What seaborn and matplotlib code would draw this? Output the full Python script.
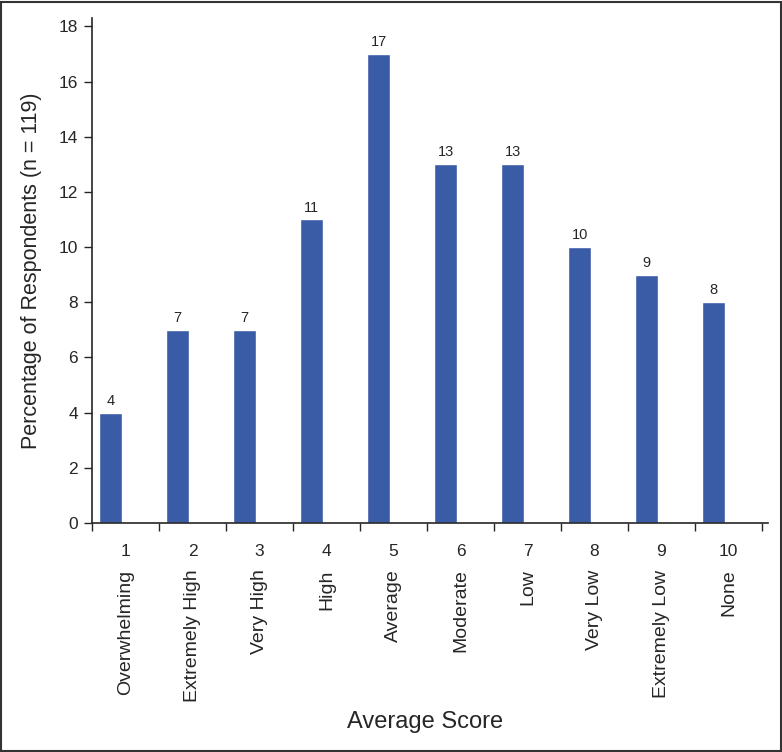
import matplotlib
matplotlib.use("Agg")
import matplotlib.pyplot as plt
import matplotlib.transforms as mtransforms
import seaborn as sns
import pandas as pd
import numpy as np

# Dados
scores = ["1", "2", "3", "4", "5", "6", "7", "8", "9", "10"]
descriptions = ["Overwhelming", "Extremely High", "Very High", "High", "Average",
                "Moderate", "Low", "Very Low", "Extremely Low", "None"]
percentages = [4, 7, 7, 11, 17, 13, 13, 10, 9, 8]

df = pd.DataFrame({"score": scores, "pct": percentages})

sns.set_style("ticks")
plt.rcParams["font.family"] = ["Liberation Sans", "DejaVu Sans"]

fig = plt.figure(figsize=(7.82, 7.52), dpi=100)
ax = fig.add_axes([0.1176, 0.3045, 0.8645, 0.6715])

sns.barplot(data=df, x="score", y="pct", color="#3A5CA6", saturation=1,
            width=0.345, ax=ax)

# Valores acima das barras
for i, v in enumerate(percentages):
    ax.annotate(str(v), (i, v), xytext=(0, 3.5), textcoords="offset points",
                ha="center", va="bottom", fontsize=10.5)

ax.set_xlim(-0.28, 9.81)
ax.set_ylim(0, 18.3)
ax.set_yticks(range(0, 19, 2))
ax.tick_params(axis="y", labelsize=12.5, length=6, width=1, direction="out", pad=4)

# Marcas nos limites das categorias, rótulos deslocados
pos = np.arange(len(scores))
ax.set_xticks(pos + 0.22)
ax.set_xticklabels(scores, fontsize=12.5)
ax.tick_params(axis="x", which="major", length=0, pad=15)
ax.set_xticks(np.append(pos - 0.28, 9.72), minor=True)
ax.tick_params(axis="x", which="minor", length=6, width=1, direction="out")

trans = mtransforms.blended_transform_factory(ax.transData, ax.transAxes)
for i, d in enumerate(descriptions):
    ax.text(i + 0.22, -0.092, d, transform=trans, rotation=90,
            ha="center", va="top", fontsize=14)

ax.set_xlabel("")
ax.set_ylabel("Percentage of Respondents (n = 119)", fontsize=15.5, labelpad=12)
fig.text(0.5435, 0.04, "Average Score", ha="center", va="center", fontsize=17)

sns.despine(ax=ax)
for s in ["left", "bottom"]:
    ax.spines[s].set_linewidth(1.2)

# Moldura da figura
fig.patches.append(plt.Rectangle((0.001, 0.001), 0.998, 0.997, transform=fig.transFigure,
                                 fill=False, edgecolor="#333333", linewidth=1.5))

fig.savefig("out.png", dpi=100)
